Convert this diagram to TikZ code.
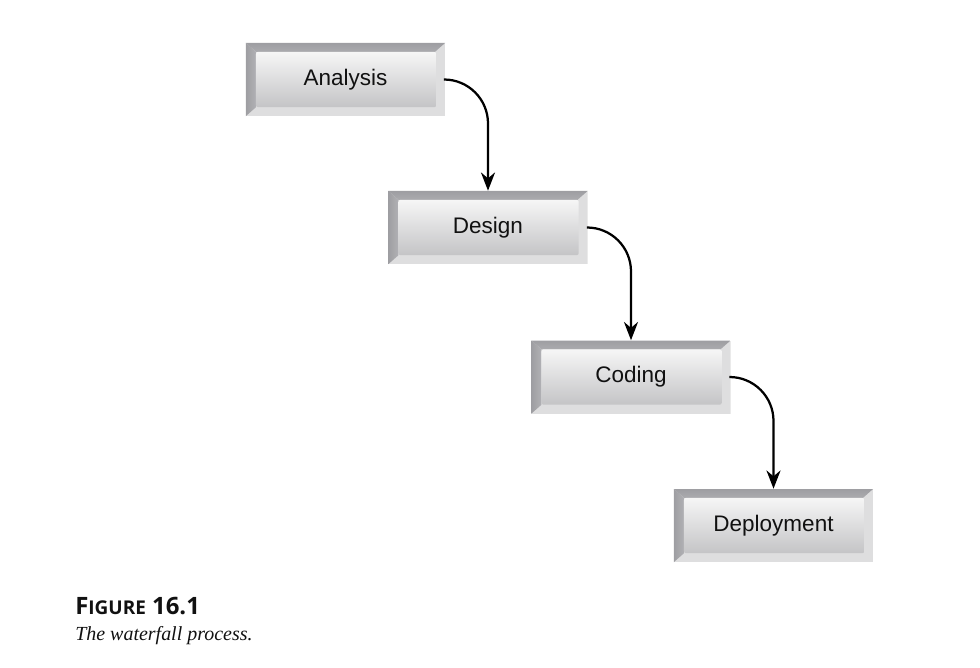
\documentclass[tikz,border=0pt]{standalone}
\usepackage{fontspec}
\setmainfont{Liberation Serif}
\setsansfont{Liberation Sans}
\newfontfamily\capfont{Open Sans}
\usetikzlibrary{arrows.meta,positioning}
\definecolor{bevdark}{HTML}{9E9EA2}
\definecolor{bevlight}{HTML}{DEDEDF}
\definecolor{panelhi}{HTML}{F6F6F6}
\definecolor{panello}{HTML}{C4C4C6}
\definecolor{textmain}{HTML}{111111}

\begin{document}
\begin{tikzpicture}[
  x=0.025cm, y=-0.025cm,
  stagebox/.style={
    rectangle, minimum width=4.975cm, minimum height=1.825cm, inner sep=0pt,
    font=\sffamily\fontsize{16}{19}\selectfont, text=textmain,
    path picture={
      % bevelled frame: dark top and left, light bottom and right
      \fill[bevlight] (path picture bounding box.north west) rectangle (path picture bounding box.south east);
      \shade[top color=bevdark, bottom color=bevdark!80!bevlight]
        (path picture bounding box.north west) -- (path picture bounding box.north east)
        -- ([xshift=-0.25cm,yshift=-0.22cm]path picture bounding box.north east)
        -- ([xshift=0.25cm,yshift=-0.22cm]path picture bounding box.north west) -- cycle;
      \shade[left color=bevdark, right color=bevdark!70!bevlight]
        (path picture bounding box.north west) -- ([xshift=0.25cm,yshift=-0.22cm]path picture bounding box.north west)
        -- ([xshift=0.25cm,yshift=0.22cm]path picture bounding box.south west)
        -- (path picture bounding box.south west) -- cycle;
      % inner panel
      \shade[rounded corners=1.5pt, left color=panelhi, right color=panello, shading angle=0]
        ([xshift=0.25cm,yshift=-0.22cm]path picture bounding box.north west)
        rectangle ([xshift=-0.22cm,yshift=0.22cm]path picture bounding box.south east);
    }},
  flow/.style={-{Stealth[length=13pt,width=10pt]}, line width=1.6pt, rounded corners=1.1cm},
]
\useasboundingbox (0,0) rectangle (980,667);

% Stages of the waterfall
\node[stagebox] (analysis) at (345.5, 79.5) {Analysis};
\node[stagebox] (design) at (488, 227.5) {Design};
\node[stagebox] (coding) at (631, 377) {Coding};
\node[stagebox] (deploy) at (773.5, 525.5) {Deployment};

% Connectors
\draw[flow] (analysis.east) -| (design.north);
\draw[flow] (design.east) -| (coding.north);
\draw[flow] (coding.east) -| (deploy.north);

% Caption
\node[anchor=base west, inner sep=0pt, text=textmain] (figlabel) at (75, 614)
  {\capfont\bfseries\fontsize{17}{20}\selectfont F\fontsize{13.5}{16}\selectfont IGURE\fontsize{17}{20}\selectfont\ 16.1};
\node[anchor=base west, inner sep=0pt, text=textmain] (figtitle) at (75, 640)
  {\itshape\fontsize{14.2}{17}\selectfont The waterfall process.};

\end{tikzpicture}
\end{document}
